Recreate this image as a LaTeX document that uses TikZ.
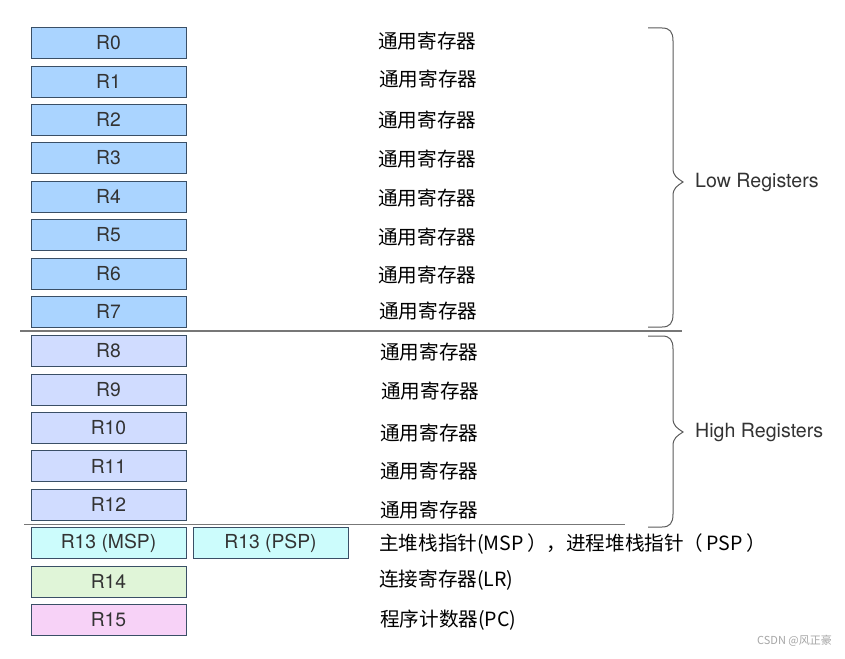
\documentclass[tikz,border=0pt]{standalone}
\usepackage{fontspec}
\setmainfont{TeX Gyre Heros}
\newfontfamily\cjk{Noto Sans CJK SC}
\definecolor{regline}{HTML}{3A4F66}
\definecolor{lowfill}{HTML}{AAD4FF}
\definecolor{highfill}{HTML}{D0DCFF}
\definecolor{spfill}{HTML}{CCFCFC}
\definecolor{lrfill}{HTML}{E0F5D8}
\definecolor{pcfill}{HTML}{F7D2F7}
\definecolor{regtext}{HTML}{333333}
\definecolor{sepline}{HTML}{777777}
\tikzset{
  regbox/.style={draw=regline, line width=0.9pt, minimum width=155pt, minimum height=31pt,
    inner sep=0pt, font=\fontsize{19.3}{22}\selectfont, text=regtext},
  lowreg/.style={regbox, fill=lowfill},
  highreg/.style={regbox, fill=highfill},
  spreg/.style={regbox, fill=spfill},
  lrreg/.style={regbox, fill=lrfill},
  pcreg/.style={regbox, fill=pcfill},
  desc/.style={anchor=west, inner sep=0pt, font=\cjk\fontsize{19.6}{22}\selectfont, text=black},
  grouplabel/.style={anchor=west, inner sep=0pt, font=\fontsize{19.6}{22}\selectfont, text=regtext},
  separator/.style={draw=sepline, line width=1.4pt},
  bracestyle/.style={draw=regtext!80, line width=1pt}
}
% curly brace on the right: top y, bottom y, tip y
\newcommand\groupbrace[3]{%
  \draw[bracestyle] (648,#1) -- (662,#1)
    .. controls (670,#1) and (673,{#1+4}) .. (673,{#1+13})
    -- (673,{#3-14})
    .. controls (673,{#3-6}) and (677,{#3-4}) .. (683,#3)
    .. controls (677,{#3+4}) and (673,{#3+6}) .. (673,{#3+14})
    -- (673,{#2-13})
    .. controls (673,{#2-4}) and (670,#2) .. (662,#2)
    -- (648,#2);}
\begin{document}
\begin{tikzpicture}[x=1pt, y=-1pt]
\useasboundingbox[fill=white] (0,0) rectangle (845,658);

% low registers
\node[lowreg] (r0) at (108.5,42.5) {R0};
\node[lowreg] (r1) at (108.5,81.5) {R1};
\node[lowreg] (r2) at (108.5,119.5) {R2};
\node[lowreg] (r3) at (108.5,158) {R3};
\node[lowreg] (r4) at (108.5,196.5) {R4};
\node[lowreg] (r5) at (108.5,235) {R5};
\node[lowreg] (r6) at (108.5,273.5) {R6};
\node[lowreg] (r7) at (108.5,311.5) {R7};

% high registers
\node[highreg] (r8) at (108.5,350.5) {R8};
\node[highreg] (r9) at (108.5,389.5) {R9};
\node[highreg] (r10) at (108.5,427.5) {R10};
\node[highreg] (r11) at (108.5,466) {R11};
\node[highreg] (r12) at (108.5,504.5) {R12};

% special registers
\node[spreg] (msp) at (108.5,543) {R13 (MSP)};
\node[spreg] (psp) at (270.5,543) {R13 (PSP)};
\node[lrreg] (r14) at (108.5,581.5) {R14};
\node[pcreg] (r15) at (108.5,619.5) {R15};

% descriptions
\node[desc] (d0) at (378,41) {通用寄存器};
\node[desc] (d1) at (379,79) {通用寄存器};
\node[desc] (d2) at (378,120) {通用寄存器};
\node[desc] (d3) at (378,159) {通用寄存器};
\node[desc] (d4) at (378,198) {通用寄存器};
\node[desc] (d5) at (378,237) {通用寄存器};
\node[desc] (d6) at (378,275) {通用寄存器};
\node[desc] (d7) at (379,311) {通用寄存器};
\node[desc] (d8) at (380,352) {通用寄存器};
\node[desc] (d9) at (381,391) {通用寄存器};
\node[desc] (d10) at (380,433) {通用寄存器};
\node[desc] (d11) at (380,471) {通用寄存器};
\node[desc] (d12) at (380,510) {通用寄存器};
\node[desc] (d13) at (379,544) {主堆栈指针(MSP\,），进程堆栈指针（\,PSP\,）};
\node[desc] (d14) at (379,580) {连接寄存器(LR)};
\node[desc] (d15) at (380,620) {程序计数器(PC)};

% separators between groups
\coordinate (s1a) at (20,331);
\coordinate (s1b) at (682,331);
\coordinate (s2a) at (24,524.5);
\coordinate (s2b) at (625,524.5);
\draw[separator] (s1a) -- (s1b);
\draw[separator] (s2a) -- (s2b);

% group braces and labels
\groupbrace{28}{327}{182}
\groupbrace{336}{527}{432}
\node[grouplabel] (low) at (695,182.5) {Low Registers};
\node[grouplabel] (high) at (695,432.5) {High Registers};

% watermark
\node[anchor=east, inner sep=0pt, font=\cjk\fontsize{11}{13}\selectfont, text=black!35] (wm) at (832,641) {CSDN @风正豪};
\end{tikzpicture}
\end{document}
